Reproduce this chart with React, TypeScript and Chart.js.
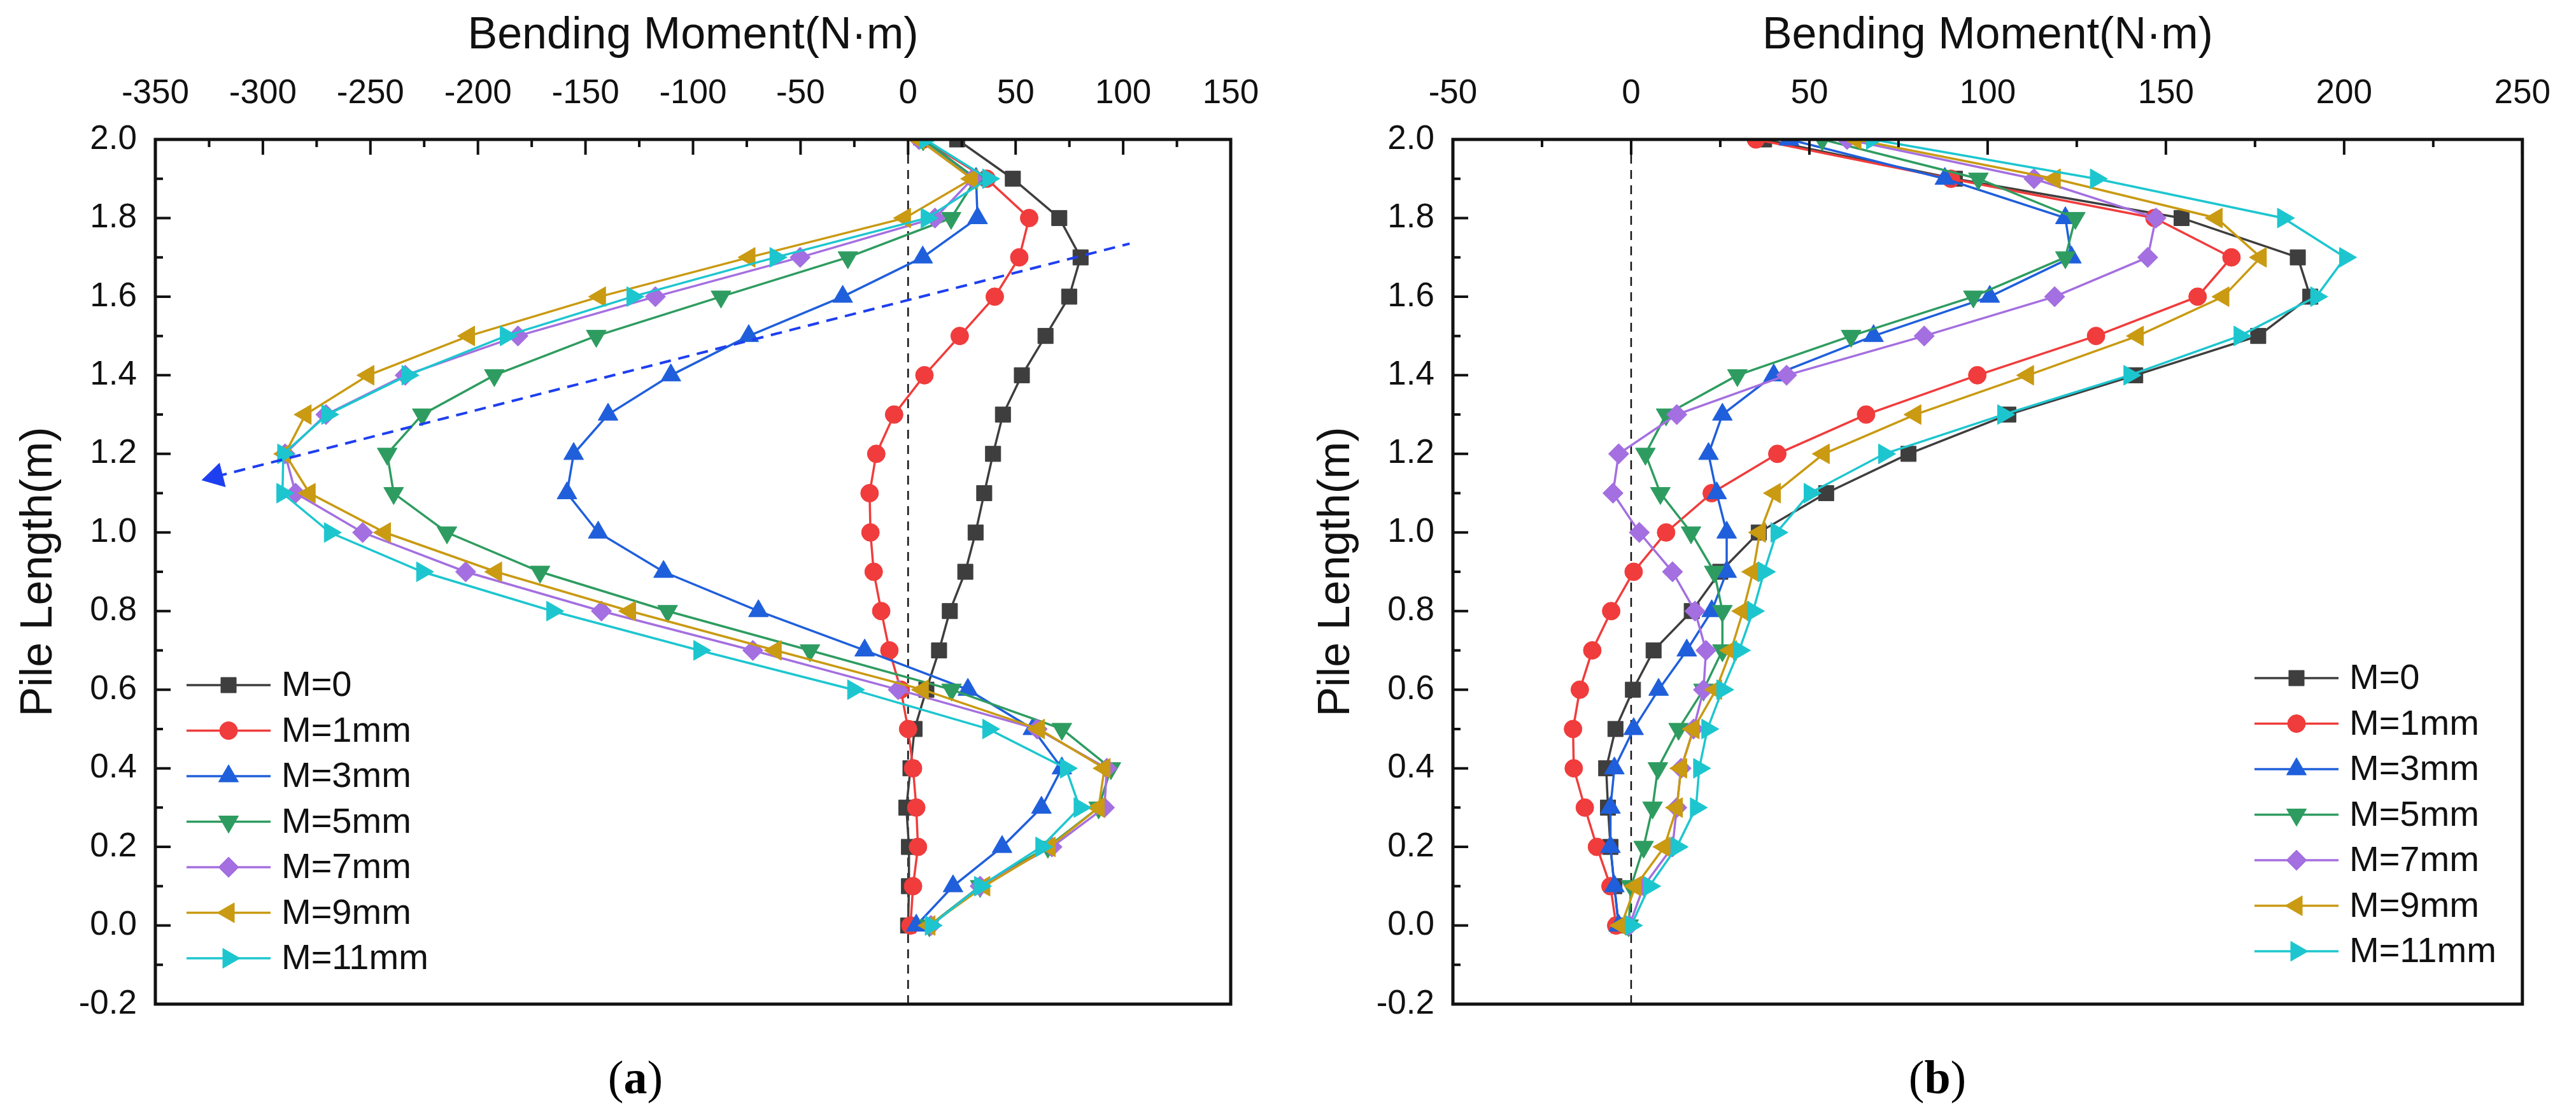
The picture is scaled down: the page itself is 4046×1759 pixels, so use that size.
import { useEffect, useRef } from "react";
import { Chart, registerables } from "chart.js";
import { drawPoint } from "chart.js/helpers";

Chart.register(...registerables);

// Pile length positions (m), from pile toe to head
const pileLength = [0.0, 0.1, 0.2, 0.3, 0.4, 0.5, 0.6, 0.7, 0.8, 0.9, 1.0, 1.1, 1.2, 1.3, 1.4, 1.5, 1.6, 1.7, 1.8, 1.9, 2.0];

const seriesLabels = ["M=0", "M=1mm", "M=3mm", "M=5mm", "M=7mm", "M=9mm", "M=11mm"];

// (a) bending moment (N·m) at each pile length
const aM0 = [0, 0.4, 0.4, -0.8, 1.1, 3, 8.5, 14.4, 19.4, 26.6, 31.4, 35.4, 39.5, 44.1, 52.9, 63.9, 74.9, 80.2, 70.3, 48.7, 22.8];
const aM1 = [1.1, 2.3, 4.6, 3.8, 2.3, 0, -3.4, -8.7, -12.5, -16, -17.5, -17.9, -14.8, -6.5, 7.6, 24, 40.3, 51.7, 56.3, 36.5, 7];
const aM3 = [3.8, 20.9, 43.7, 62, 71.5, 58, 27.8, -20.2, -69.6, -113.7, -144.1, -158.6, -155.5, -139.5, -110.3, -74.1, -30.4, 6.8, 32.3, 31.6, 7];
const aM5 = [9.9, 33.5, 65, 88.6, 94.3, 71.5, 20.2, -45.6, -111.8, -171.1, -214.4, -239.2, -242.2, -225.9, -192.4, -145, -87, -28, 20, 31.6, 7];
const aM7 = [10.6, 33.5, 66.9, 91.3, 92.4, 60, -4.6, -72.2, -142.6, -205.7, -253.6, -284.8, -289.7, -270.7, -233.8, -181.4, -117.5, -50.2, 12.5, 30, 5];
const aM9 = [9.9, 35.4, 65.8, 88.6, 91.3, 60.8, 6.8, -61.6, -129.3, -191.6, -243.3, -278.3, -289.7, -280.2, -251, -204.2, -143.3, -73.8, -1.5, 29.7, 5];
const aM11 = [10.6, 33.5, 62, 79.8, 73.4, 37.3, -25.5, -97, -165.4, -225.9, -268.8, -290.9, -290.5, -270, -232.7, -187, -128.1, -61.6, 8.7, 37.3, 8];

// (b) bending moment (N·m) at each pile length
const bM0 = [-3.5, -4.7, -5.8, -6.5, -7, -4.4, 0.5, 6.3, 17, 25, 35.8, 54.7, 77.8, 105.8, 141.4, 175.9, 190.5, 187, 154.4, 90.8, 37.3];
const bM1 = [-4.2, -5.8, -9.6, -13, -16.1, -16.3, -14.4, -10.9, -5.6, 0.7, 9.8, 22.6, 41, 65.9, 97.1, 130.4, 158.9, 168.4, 146.8, 89.7, 35];
const bM3 = [-3.5, -4.7, -5.8, -5.8, -4.7, 0.7, 7.7, 15.6, 22.6, 26.8, 26.8, 24, 21.7, 25.6, 40, 68, 100.6, 123.5, 121.8, 88, 44.3];
const bM5 = [-0.7, 0, 3.5, 6, 7.5, 13.3, 20.3, 25.6, 25.6, 23.3, 16.8, 8.2, 4, 9.8, 29.8, 61.7, 96, 121.8, 124.6, 97.4, 53.6];
const bM7 = [-0.5, 3.5, 11.6, 12.8, 14, 17.5, 20.3, 21, 17.9, 11.6, 2.3, -5.1, -3.5, 12.8, 43.6, 82.2, 118.8, 144.9, 147.2, 113, 60.6];
const bM9 = [-2.8, 1.2, 9.3, 12.8, 14, 17.5, 23.8, 28, 31.4, 34.2, 36.1, 40.3, 54, 79.7, 111.3, 142.1, 166.1, 176.6, 164.2, 118.8, 62.9];
const bM11 = [0, 5.1, 12.8, 18.2, 19.1, 21.4, 25.6, 30.3, 34.2, 37.3, 40.8, 50.1, 71, 104.4, 139.8, 170.7, 192.2, 200.3, 182.9, 130.4, 67.6];

// tick values
const xTicksA = [-350, -300, -250, -200, -150, -100, -50, 0, 50, 100, 150];
const xTicksB = [-50, 0, 50, 100, 150, 200, 250];
const yTicks = [-0.2, 0.0, 0.2, 0.4, 0.6, 0.8, 1.0, 1.2, 1.4, 1.6, 1.8, 2.0];

// dashed trend arrow drawn in (a)
const trendArrowA = [
  { x: -322, y: 1.142 },
  { x: 103, y: 1.735 },
];

const seriesStyles = [
  { color: "#3e3e3e", pointStyle: "rect", rotation: 0, radius: 17 },
  { color: "#f03c3c", pointStyle: "circle", rotation: 0, radius: 14 },
  { color: "#1f5fdb", pointStyle: "triangle", rotation: 0, radius: 18 },
  { color: "#2e9c60", pointStyle: "triangle", rotation: 180, radius: 18 },
  { color: "#a46fe0", pointStyle: "rectRot", rotation: 0, radius: 16 },
  { color: "#c99a12", pointStyle: "triangle", rotation: 270, radius: 18 },
  { color: "#1dc6cf", pointStyle: "triangle", rotation: 90, radius: 18 },
];

const FONT = "'Liberation Sans', Arial, sans-serif";

const framePlugin = {
  id: "frameTicks",
  afterDatasetsDraw(chart: any) {
    const { ctx, chartArea, scales } = chart;
    const { left, right, top, bottom } = chartArea;
    const x = scales.x;
    const y = scales.y;
    ctx.save();
    ctx.strokeStyle = "#111";
    ctx.lineWidth = 4;
    const xv = x.ticks.map((t: any) => t.value);
    const yv = y.ticks.map((t: any) => t.value);
    ctx.beginPath();
    xv.forEach((v: number, i: number) => {
      const px = x.getPixelForValue(v);
      ctx.moveTo(px, top);
      ctx.lineTo(px, top + 24);
      if (i < xv.length - 1) {
        const mx = x.getPixelForValue((v + xv[i + 1]) / 2);
        ctx.moveTo(mx, top);
        ctx.lineTo(mx, top + 12);
      }
    });
    yv.forEach((v: number, i: number) => {
      const py = y.getPixelForValue(v);
      ctx.moveTo(left, py);
      ctx.lineTo(left + 24, py);
      if (i < yv.length - 1) {
        const my = y.getPixelForValue((v + yv[i + 1]) / 2);
        ctx.moveTo(left, my);
        ctx.lineTo(left + 12, my);
      }
    });
    ctx.stroke();
    ctx.lineWidth = 5;
    ctx.strokeRect(left, top, right - left, bottom - top);
    ctx.restore();
  },
};

const legendPlugin = {
  id: "boxLegend",
  afterDraw(chart: any, _args: any, opts: any) {
    const { ctx } = chart;
    ctx.save();
    ctx.font = `56px ${FONT}`;
    ctx.textBaseline = "middle";
    ctx.textAlign = "left";
    let row = 0;
    chart.data.datasets.forEach((ds: any) => {
      if (!ds.inLegend) return;
      const cy = opts.y + row * opts.rowGap;
      ctx.strokeStyle = ds.borderColor;
      ctx.lineWidth = ds.borderWidth;
      ctx.beginPath();
      ctx.moveTo(opts.x, cy);
      ctx.lineTo(opts.x + opts.lineLen, cy);
      ctx.stroke();
      ctx.fillStyle = ds.pointBackgroundColor;
      ctx.strokeStyle = ds.pointBorderColor;
      ctx.lineWidth = 1;
      drawPoint(
        ctx,
        { pointStyle: ds.pointStyle, rotation: ds.pointRotation, radius: ds.pointRadius, borderWidth: 1 },
        opts.x + opts.lineLen / 2,
        cy
      );
      ctx.fillStyle = "#111";
      ctx.fillText(ds.label, opts.x + opts.lineLen + opts.textGap, cy + 2);
      row++;
    });
    ctx.restore();
  },
};

type PanelSpec = {
  values: number[][];
  xTicks: number[];
  arrow: { x: number; y: number }[] | null;
  yAxisWidth: number;
  yTitlePad: number;
  padRight: number;
  legend: { x: number; y: number };
};

const panelA: PanelSpec = {
  values: [aM0, aM1, aM3, aM5, aM7, aM9, aM11],
  xTicks: xTicksA,
  arrow: trendArrowA,
  yAxisWidth: 244,
  yTitlePad: 20,
  padRight: 90,
  legend: { x: 293, y: 1076 },
};

const panelB: PanelSpec = {
  values: [bM0, bM1, bM3, bM5, bM7, bM9, bM11],
  xTicks: xTicksB,
  arrow: null,
  yAxisWidth: 259,
  yTitlePad: 35,
  padRight: 75,
  legend: { x: 1518, y: 1065 },
};

function makeConfig(p: PanelSpec): any {
  const series = p.values.map((vals, i) => {
    const s = seriesStyles[i];
    return {
      label: seriesLabels[i],
      data: vals.map((v, k) => ({ x: v, y: pileLength[k] })),
      borderColor: s.color,
      backgroundColor: s.color,
      borderWidth: 3.5,
      pointStyle: s.pointStyle,
      pointRotation: s.rotation,
      pointRadius: s.radius,
      pointBackgroundColor: s.color,
      pointBorderColor: s.color,
      pointBorderWidth: 1,
      tension: 0,
      clip: 0,
      order: 10 - i,
      inLegend: true,
    };
  });

  const datasets: any[] = [];
  if (p.arrow) {
    datasets.push({
      label: "trend",
      data: p.arrow,
      borderColor: "#1e3ff0",
      backgroundColor: "#1e3ff0",
      borderWidth: 4,
      borderDash: [18, 12],
      pointStyle: "triangle",
      pointRotation: 256,
      pointRadius: [22, 0],
      pointBackgroundColor: "#1e3ff0",
      pointBorderColor: "#1e3ff0",
      pointBorderWidth: 1,
      order: 0,
    });
  }
  datasets.push(...series);
  datasets.push({
    label: "zero",
    data: [
      { x: 0, y: yTicks[0] },
      { x: 0, y: yTicks[yTicks.length - 1] },
    ],
    borderColor: "#111",
    borderWidth: 2.5,
    borderDash: [14, 10],
    pointRadius: 0,
    order: 100,
  });

  return {
    type: "line",
    data: { datasets },
    options: {
      responsive: false,
      animation: false,
      events: [],
      layout: { padding: { left: 0, top: 0, right: p.padRight, bottom: 182 } },
      plugins: {
        legend: { display: false },
        tooltip: { enabled: false },
        boxLegend: { x: p.legend.x, y: p.legend.y, rowGap: 71.5, lineLen: 132, textGap: 17 },
      },
      scales: {
        x: {
          type: "linear",
          position: "top",
          min: p.xTicks[0],
          max: p.xTicks[p.xTicks.length - 1],
          afterBuildTicks: (scale: any) => {
            scale.ticks = p.xTicks.map((v) => ({ value: v }));
          },
          afterFit: (scale: any) => {
            scale.height = 219;
          },
          grid: { display: false, drawTicks: false },
          border: { display: false },
          ticks: {
            padding: 40,
            maxRotation: 0,
            autoSkip: false,
            color: "#111",
            font: { family: FONT, size: 53 },
            callback: (v: any) => String(Math.round(Number(v))),
          },
          title: {
            display: true,
            text: "Bending Moment(N·m)",
            color: "#111",
            font: { family: FONT, size: 70 },
            padding: { top: 15, bottom: 0 },
          },
        },
        y: {
          type: "linear",
          position: "left",
          min: yTicks[0],
          max: yTicks[yTicks.length - 1],
          afterBuildTicks: (scale: any) => {
            scale.ticks = yTicks.map((v) => ({ value: v }));
          },
          afterFit: (scale: any) => {
            scale.width = p.yAxisWidth;
          },
          grid: { display: false, drawTicks: false },
          border: { display: false },
          ticks: {
            padding: 29,
            autoSkip: false,
            color: "#111",
            font: { family: FONT, size: 53 },
            callback: (v: any) => Number(v).toFixed(1),
          },
          title: {
            display: true,
            text: "Pile Length(m)",
            color: "#111",
            font: { family: FONT, size: 70 },
            padding: { top: p.yTitlePad, bottom: 0 },
          },
        },
      },
    },
    plugins: [framePlugin, legendPlugin],
  };
}

function Panel({ spec, left }: { spec: PanelSpec; left: number }) {
  const canvasRef = useRef<HTMLCanvasElement | null>(null);

  useEffect(() => {
    if (!canvasRef.current) return;
    const chart = new Chart(canvasRef.current, makeConfig(spec));
    return () => {
      chart.destroy();
    };
  }, [spec]);

  return (
    <canvas
      ref={canvasRef}
      width={2023}
      height={1759}
      style={{ position: "absolute", left, top: 0, width: 2023, height: 1759 }}
    />
  );
}

function Caption({ letter, center }: { letter: string; center: number }) {
  return (
    <div
      style={{
        position: "absolute",
        left: center - 150,
        top: 1655,
        width: 300,
        textAlign: "center",
        fontFamily: "'Liberation Serif', 'Times New Roman', serif",
        fontSize: 74,
        lineHeight: "74px",
        color: "#000",
      }}
    >
      (<b>{letter}</b>)
    </div>
  );
}

export default function App() {
  return (
    <div
      style={{
        position: "absolute",
        left: 0,
        top: 0,
        width: 4046,
        height: 1759,
        background: "#fff",
        overflow: "hidden",
      }}
    >
      <Panel spec={panelA} left={0} />
      <Panel spec={panelB} left={2023} />
      <Caption letter="a" center={998} />
      <Caption letter="b" center={3043} />
    </div>
  );
}
